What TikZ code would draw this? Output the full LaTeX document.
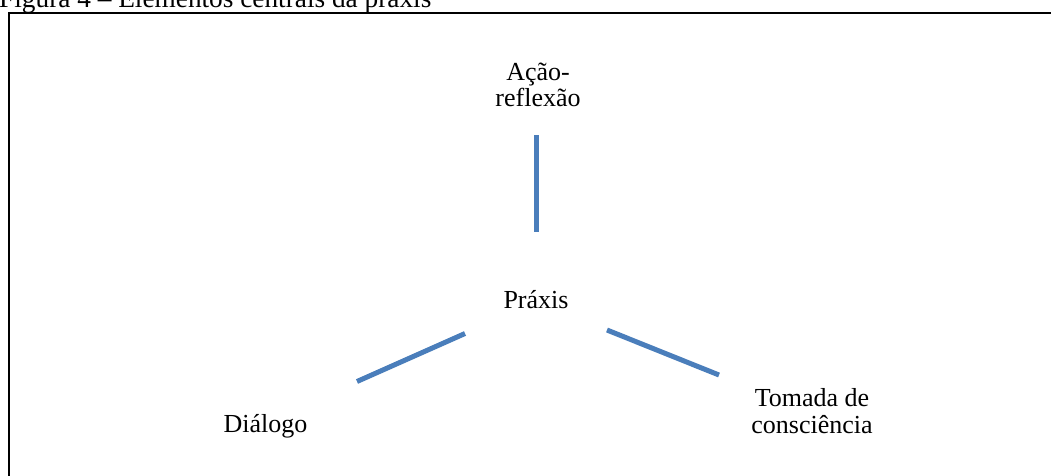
\documentclass[tikz,border=0pt]{standalone}
\usepackage{fontspec}
\setmainfont{Liberation Serif}
\definecolor{linkblue}{RGB}{74,126,187}
\begin{document}
\begin{tikzpicture}[x=1pt,y=-1pt,
  label text/.style={font=\fontsize{26}{26.5}\selectfont, inner sep=0pt, align=center, anchor=base},
  link/.style={draw=linkblue, line width=5pt},
  frame line/.style={draw=black, line width=2pt}]
  \clip (0,0) rectangle (1051,475);
  \fill[white] (0,0) rectangle (1051,475);

  % caption above the frame
  \node[font=\fontsize{27.3}{28}\selectfont, inner sep=0pt, anchor=base west] (caption) at (-1,7.5)
    {Figura 4 -- Elementos centrais da práxis};

  % frame (top and left edges)
  \coordinate (frameTR) at (1060,13);
  \coordinate (frameTL) at (9,13);
  \coordinate (frameBL) at (9,485);
  \draw[frame line] (frameTR) -- (frameTL) -- (frameBL);

  % labels (base anchor sits on the last line)
  \node[label text] (acao) at (538,106.5) {Ação-\\reflexão};
  \node[label text] (praxis) at (536,308) {Práxis};
  \node[label text] (dialogo) at (265.5,432) {Diálogo};
  \node[label text] (tomada) at (812,433) {Tomada de\\consciência};

  % connector ends
  \coordinate (upA) at (536.5,135);
  \coordinate (upB) at (536.5,231.5);
  \coordinate (leftA) at (465,333.5);
  \coordinate (leftB) at (357,381.5);
  \coordinate (rightA) at (607,330);
  \coordinate (rightB) at (719,375);

  \draw[link] (upA) -- (upB);
  \draw[link] (leftA) -- (leftB);
  \draw[link] (rightA) -- (rightB);
\end{tikzpicture}
\end{document}
